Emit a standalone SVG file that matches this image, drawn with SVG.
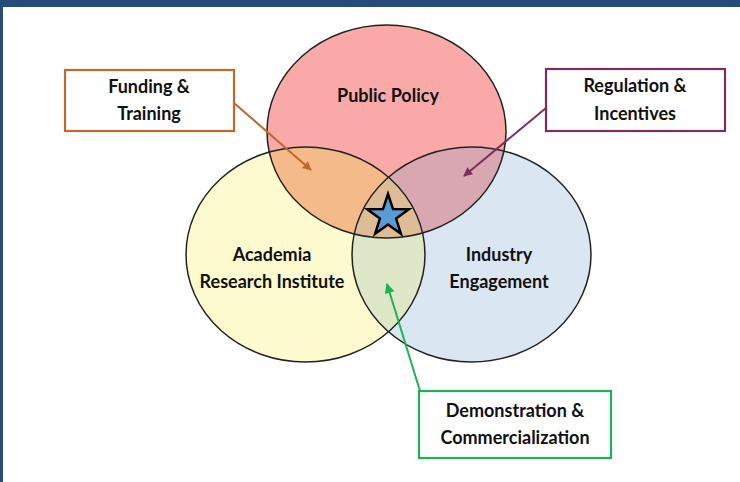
<svg xmlns="http://www.w3.org/2000/svg" width="740" height="482" viewBox="0 0 740 482">
<defs>
<style>
.lbl{font-family:Lato,"Liberation Sans",sans-serif;font-weight:bold;font-size:18px;fill:#111;text-anchor:middle}
.ol{fill:none;stroke:#222;stroke-width:1.5}
.box{fill:#fff;stroke-width:2.2}
.arr{fill:none;stroke-width:2}
</style>
<clipPath id="cA"><ellipse cx="305.5" cy="254.5" rx="119.5" ry="107.5"/></clipPath>
<clipPath id="cB"><ellipse cx="471.5" cy="254.5" rx="119.5" ry="107.5"/></clipPath>
<marker id="mO" viewBox="0 0 10 10" refX="9" refY="5" markerWidth="10" markerHeight="9" markerUnits="userSpaceOnUse" orient="auto"><path d="M0,0 L10,5 L0,10 z" fill="#C0692E"/></marker>
<marker id="mP" viewBox="0 0 10 10" refX="9" refY="5" markerWidth="10" markerHeight="9" markerUnits="userSpaceOnUse" orient="auto"><path d="M0,0 L10,5 L0,10 z" fill="#7D2E5E"/></marker>
<marker id="mG" viewBox="0 0 10 10" refX="9" refY="5" markerWidth="11" markerHeight="10" markerUnits="userSpaceOnUse" orient="auto"><path d="M0,0 L10,5 L0,10 z" fill="#1DB257"/></marker>
</defs>
<rect width="740" height="482" fill="#fff"/>
<rect x="0" y="0" width="740" height="7" fill="#284B7E"/>
<rect x="0" y="0" width="3" height="482" fill="#284B7E"/>

<g id="venn-fills">
<ellipse cx="305.5" cy="254.5" rx="119.5" ry="107.5" fill="#FDFAD0"/>
<ellipse cx="471.5" cy="254.5" rx="119.5" ry="107.5" fill="#DBE6F3"/>
<ellipse cx="386.5" cy="131.5" rx="119.5" ry="106.5" fill="#F9AAA8"/>
<ellipse cx="386.5" cy="131.5" rx="119.5" ry="106.5" fill="#F5BA89" clip-path="url(#cA)"/>
<ellipse cx="386.5" cy="131.5" rx="119.5" ry="106.5" fill="#D8A7B2" clip-path="url(#cB)"/>
<ellipse cx="305.5" cy="254.5" rx="119.5" ry="107.5" fill="#DEE8C9" clip-path="url(#cB)"/>
<g clip-path="url(#cA)"><ellipse cx="386.5" cy="131.5" rx="119.5" ry="106.5" fill="#DEBC96" clip-path="url(#cB)"/></g>
</g>

<g id="public-policy">
<ellipse class="ol" cx="386.5" cy="131.5" rx="119.5" ry="106.5"/>
<text class="lbl" x="388" y="102">Public Policy</text>
</g>
<g id="academia">
<ellipse class="ol" cx="305.5" cy="254.5" rx="119.5" ry="107.5"/>
<text class="lbl" x="272" y="261">Academia</text>
<text class="lbl" x="272" y="288">Research Institute</text>
</g>
<g id="industry">
<ellipse class="ol" cx="471.5" cy="254.5" rx="119.5" ry="107.5"/>
<text class="lbl" x="499" y="261">Industry</text>
<text class="lbl" x="499" y="288">Engagement</text>
</g>
<g id="star">
<polygon points="388,194 393,209.1 408.9,209.2 396.1,218.6 400.9,233.8 388,224.5 375.1,233.8 379.9,218.6 367.1,209.2 383,209.1" fill="#5B9BD5" stroke="#000" stroke-width="2.5" stroke-linejoin="miter"/>
</g>

<g id="connectors">
<line class="arr" x1="234" y1="103" x2="311" y2="170" stroke="#C0692E" marker-end="url(#mO)"/>
<line class="arr" x1="546" y1="108" x2="464" y2="176" stroke="#7D2E5E" marker-end="url(#mP)"/>
<line class="arr" x1="420" y1="391" x2="387" y2="284" stroke="#1DB257" stroke-width="2.4" marker-end="url(#mG)"/>
</g>

<g id="funding-training">
<rect class="box" x="65" y="70" width="169" height="61" stroke="#C0692E"/>
<text class="lbl" x="149" y="93">Funding &amp;</text>
<text class="lbl" x="149" y="120">Training</text>
</g>
<g id="regulation-incentives">
<rect class="box" x="546" y="69" width="179" height="62" stroke="#7D2E5E"/>
<text class="lbl" x="635" y="92">Regulation &amp;</text>
<text class="lbl" x="635" y="120">Incentives</text>
</g>
<g id="demonstration-commercialization">
<rect class="box" x="419" y="391" width="192" height="67" stroke="#1DB257"/>
<text class="lbl" x="515" y="417">Demonstration &amp;</text>
<text class="lbl" x="515" y="444">Commercialization</text>
</g>
</svg>
